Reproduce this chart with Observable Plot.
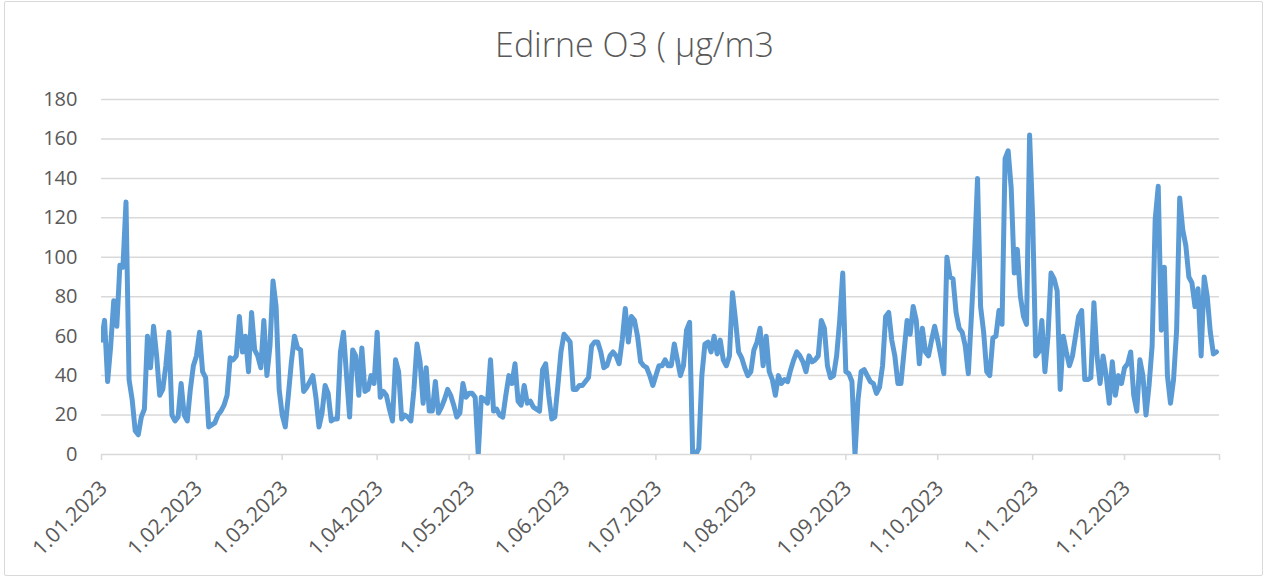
<!DOCTYPE html>
<html><head><meta charset="utf-8">
<script src="https://cdn.jsdelivr.net/npm/d3@7"></script>
<script src="https://cdn.jsdelivr.net/npm/@observablehq/plot@0.6"></script>
<style>
body{margin:0;background:#fff;}
#wrap{position:relative;width:1269px;height:578px;overflow:hidden;font-family:"Open Sans",sans-serif;}
#frame{position:absolute;left:4px;top:1px;width:1257px;height:573px;border:1px solid #d9d9d9;border-radius:2px;}
#title{position:absolute;left:0;width:1269px;top:21px;text-align:center;font-size:34px;font-weight:300;color:#595959;white-space:pre;}
#chart{position:absolute;left:0;top:0;}
</style></head>
<body><div id="wrap"><div id="frame"></div><div id="title"></div><div id="chart"></div></div>
<script>
const year = 2023;
const titleText = "Edirne O3 ( µg/m3";
// daily O3 values (µg/m3), one array per month
const jan = [58,68,37,55,78,65,96,95,128,38,28,12,10,19,23,60,44,65,50,30,33,45,62,20,17,19,36,20,17,33,45];
const feb = [50,62,42,39,14,15,16,20,22,25,30,49,48,50,70,52,60,42,72,53,50,44,68,40,55,88,75,33];
const mar = [20,14,30,47,60,54,53,32,34,37,40,29,14,21,35,31,17,18,18,52,62,40,19,53,50,30,54,32,33,40,36];
const apr = [62,29,32,30,23,17,48,42,18,20,19,17,33,56,47,26,44,22,22,37,21,24,28,33,30,25,19,21,36,29];
const may = [31,31,29,0,29,28,26,48,22,23,20,19,30,40,36,46,27,25,35,26,27,24,23,22,43,46,30,18,19,35,52];
const jun = [61,59,57,33,33,35,35,37,39,55,57,57,52,44,45,50,52,50,46,58,74,57,70,68,60,47,45,44,40,35];
const jul = [40,45,45,48,45,45,56,48,40,45,63,67,0,0,3,40,56,57,52,60,51,58,48,45,50,82,68,52,49,44,40];
const aug = [42,53,57,64,45,60,42,38,30,40,36,38,37,43,48,52,50,47,42,50,47,48,50,68,64,45,39,40,50,68,92];
const sep = [42,41,37,0,28,42,43,40,37,36,31,34,45,70,72,58,50,36,36,52,68,61,75,68,46,64,52,50,58,65];
const oct = [58,50,41,100,90,89,72,64,62,55,41,70,100,140,75,62,42,40,59,60,73,66,150,154,135,92,104,80,70,66,162];
const nov = [120,50,52,68,42,60,92,89,83,33,60,52,45,50,60,70,73,38,38,39,77,50,36,50,40,26,47,30,40,36];
const dec = [44,46,52,30,22,48,40,20,35,55,119,136,63,95,40,26,38,63,130,114,106,90,87,75,84,50,90,80,62,51,52];
const months = [jan,feb,mar,apr,may,jun,jul,aug,sep,oct,nov,dec];
const yTicks = [0,20,40,60,80,100,120,140,160,180];

document.getElementById("title").textContent = titleText;

const data = [];
months.forEach((vals, m) => vals.forEach((v, i) => data.push({date: new Date(Date.UTC(year, m, i + 1)), value: v})));
const start = new Date(Date.UTC(year, 0, 1));
const end = new Date(Date.UTC(year + 1, 0, 1));
const monthTicks = d3.utcMonth.range(start, end);
const fmt = d => `${d.getUTCDate()}.${String(d.getUTCMonth() + 1).padStart(2, "0")}.${d.getUTCFullYear()}`;

const plot = Plot.plot({
  width: 1269, height: 578,
  marginLeft: 101, marginRight: 50, marginTop: 99, marginBottom: 124,
  style: {fontFamily: "Open Sans", fontSize: "20px", color: "#595959", background: "transparent", overflow: "visible"},
  x: {type: "utc", domain: [start, end], label: null},
  y: {domain: [0, 180], label: null},
  marks: [
    Plot.gridY(yTicks, {stroke: "#d9d9d9", strokeOpacity: 1, strokeWidth: 1.5}),
    Plot.axisY(yTicks, {tickSize: 0, tickPadding: 24, fontSize: 20, fill: "#595959", label: null}),
    Plot.axisX([...monthTicks, end], {tickSize: 6, text: null, stroke: "#d9d9d9", strokeWidth: 1.5, label: null}),
    Plot.axisX(monthTicks, {tickFormat: fmt, tickRotate: -45, tickSize: 0, tickPadding: 35, textAnchor: "end", lineAnchor: "bottom", dx: 7, fill: "#595959", fontSize: 21, label: null}),
    Plot.line(data, {x: "date", y: "value", stroke: "#5b9bd5", strokeWidth: 5, strokeLinejoin: "round", strokeLinecap: "round", clip: true})
  ]
});
document.getElementById("chart").appendChild(plot);
</script>
</body></html>
